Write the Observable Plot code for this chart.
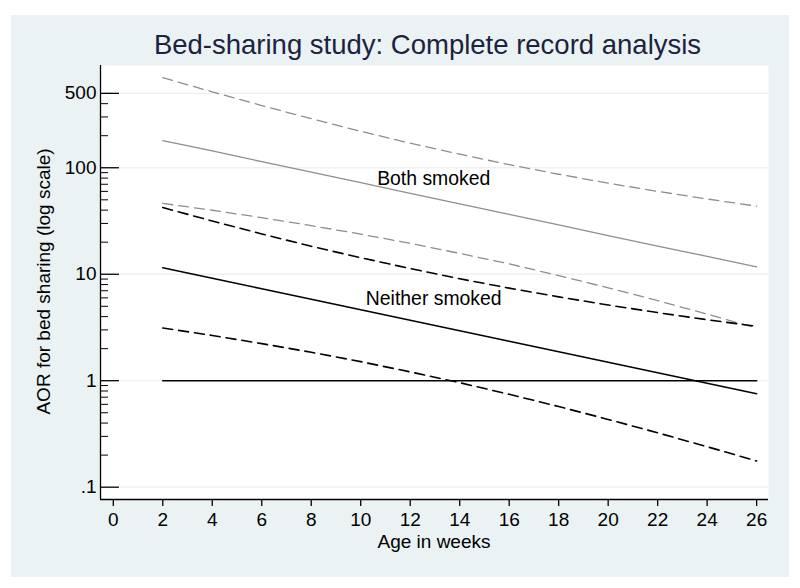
<!DOCTYPE html>
<html>
<head>
<meta charset="utf-8">
<script src="https://cdn.jsdelivr.net/npm/d3@7"></script>
<script src="https://cdn.jsdelivr.net/npm/@observablehq/plot@0.6"></script>
<style>
  body { margin: 0; background: #ffffff; }
  #wrap { position: relative; width: 800px; height: 588px; overflow: hidden;
          font-family: "Liberation Sans", Arial, Helvetica, sans-serif; }
  #bg { position: absolute; left: 11px; top: 15px; width: 778px; height: 562px; background: #eaf2f3; }
  #chart { position: absolute; left: 0; top: 0; }
  #title { position: absolute; left: 0; width: 855px; top: 31px; text-align: center;
           font-size: 27.5px; line-height: 28px; color: #1c2340; white-space: nowrap; }
  #xlabel { position: absolute; left: 234px; width: 400px; top: 532px; text-align: center;
            font-size: 19px; line-height: 19px; color: #000; white-space: nowrap; }
  #ylabel { position: absolute; left: -157px; width: 400px; top: 272px; height: 19px; text-align: center;
            font-size: 19px; line-height: 19px; color: #000; white-space: nowrap;
            transform: rotate(-90deg); transform-origin: 50% 50%; }
</style>
</head>
<body>
<div id="wrap">
  <div id="bg"></div>
  <div id="chart"></div>
  <div id="title">Bed-sharing study: Complete record analysis</div>
  <div id="xlabel">Age in weeks</div>
  <div id="ylabel">AOR for bed sharing (log scale)</div>
</div>
<script>
// ---- data ----
const weeks = [2, 4, 6, 8, 10, 12, 14, 16, 18, 20, 22, 24, 26];

const bothEst   = [180, 144, 114, 90.9, 72.4, 57.6, 45.9, 36.5, 29.1, 23.1, 18.4, 14.7, 11.7];
const bothUpper = [702, 516, 384, 289, 220, 170, 134, 107, 86.9, 71.7, 60.0, 50.9, 43.6];
const bothLower = [46.3, 39.9, 34.0, 28.6, 23.8, 19.5, 15.7, 12.5, 9.72, 7.46, 5.65, 4.22, 3.12];

const neitherEst   = [11.5, 9.17, 7.31, 5.82, 4.64, 3.70, 2.95, 2.35, 1.87, 1.49, 1.19, 0.947, 0.755];
const neitherUpper = [42.3, 31.6, 23.9, 18.3, 14.3, 11.3, 9.07, 7.40, 6.13, 5.14, 4.36, 3.74, 3.24];
const neitherLower = [3.13, 2.66, 2.23, 1.85, 1.51, 1.21, 0.958, 0.745, 0.572, 0.433, 0.324, 0.240, 0.176];

const refWeeks = [2, 26];
const refValues = [1, 1];

const labelTexts = ["Both smoked", "Neither smoked"];
const labelWeeks = [12.95, 12.95];
const labelValues = [79.3, 5.93];

const yTicks = [0.1, 1, 10, 100, 500];
const yTickLabels = [".1", "1", "10", "100", "500"];
const yMinorTicks = [0.2, 0.3, 0.4, 0.5, 0.6, 0.7, 0.8, 0.9,
                     2, 3, 4, 5, 6, 7, 8, 9,
                     20, 30, 40, 50, 60, 70, 80, 90,
                     200, 300, 400];
const xTicks = [0, 2, 4, 6, 8, 10, 12, 14, 16, 18, 20, 22, 24, 26];
const xTickLabels = ["0", "2", "4", "6", "8", "10", "12", "14", "16", "18", "20", "22", "24", "26"];

const xDomain = [-0.517, 26.48];
const yDomain = [0.0766, 913];

// ---- build tables ----
const toRows = (vals) => weeks.map((w, i) => ({week: w, value: vals[i]}));
const refRows = refWeeks.map((w, i) => ({week: w, value: refValues[i]}));
const labelRows = labelTexts.map((t, i) => ({text: t, week: labelWeeks[i], value: labelValues[i]}));
const yTickRows = yTicks.map((v, i) => ({value: v, text: yTickLabels[i]}));

const W = 800, H = 588, mL = 100, mR = 32, mT = 65, mB = 89;
const innerW = W - mL - mR;

const gray = "#8e8e8e";
const grid = "#eaf2f3";
const dash = "10,6";

const chart = Plot.plot({
  width: W,
  height: H,
  marginLeft: mL,
  marginRight: mR,
  marginTop: mT,
  marginBottom: mB,
  style: {background: "transparent", fontFamily: "'Liberation Sans', Arial, sans-serif", color: "#000"},
  x: {domain: xDomain, axis: null},
  y: {type: "log", domain: yDomain, axis: null},
  marks: [
    Plot.frame({fill: "white", stroke: "none"}),
    Plot.ruleY(yTicks, {stroke: grid, strokeWidth: 1.3, insetLeft: 20}),
    Plot.tickY(yTicks, {stroke: "#000", strokeWidth: 1.3, insetRight: innerW - 19}),
    Plot.tickY(yMinorTicks, {stroke: "#000", strokeWidth: 1, insetRight: innerW - 8}),
    Plot.ruleX([xDomain[0]], {stroke: "#000", strokeWidth: 1.3}),
    Plot.ruleY([yDomain[0]], {stroke: "#000", strokeWidth: 1.3}),
    Plot.text(yTickRows, {y: "value", text: "text", frameAnchor: "left", textAnchor: "end",
                          dx: -4, fontSize: 19, fill: "#000", lineAnchor: "middle"}),
    Plot.axisX(xTicks, {tickSize: 7, tickPadding: 6, fontSize: 19, label: null,
                        stroke: "#000", strokeWidth: 1.3,
                        tickFormat: d => xTickLabels[xTicks.indexOf(d)]}),
    // Both smoked (gray)
    Plot.line(toRows(bothUpper), {x: "week", y: "value", stroke: gray, strokeWidth: 1.3, strokeDasharray: dash}),
    Plot.line(toRows(bothLower), {x: "week", y: "value", stroke: gray, strokeWidth: 1.3, strokeDasharray: dash}),
    Plot.line(toRows(bothEst),   {x: "week", y: "value", stroke: gray, strokeWidth: 1.3}),
    // Neither smoked (black)
    Plot.line(toRows(neitherUpper), {x: "week", y: "value", stroke: "#000", strokeWidth: 1.6, strokeDasharray: dash}),
    Plot.line(toRows(neitherLower), {x: "week", y: "value", stroke: "#000", strokeWidth: 1.6, strokeDasharray: dash}),
    Plot.line(toRows(neitherEst),   {x: "week", y: "value", stroke: "#000", strokeWidth: 1.6}),
    // reference line at 1
    Plot.line(refRows, {x: "week", y: "value", stroke: "#000", strokeWidth: 1.6}),
    // labels
    Plot.text(labelRows, {x: "week", y: "value", text: "text", fontSize: 19.4, fill: "#000",
                          textAnchor: "middle", lineAnchor: "middle"})
  ]
});

document.getElementById("chart").appendChild(chart);
</script>
</body>
</html>
